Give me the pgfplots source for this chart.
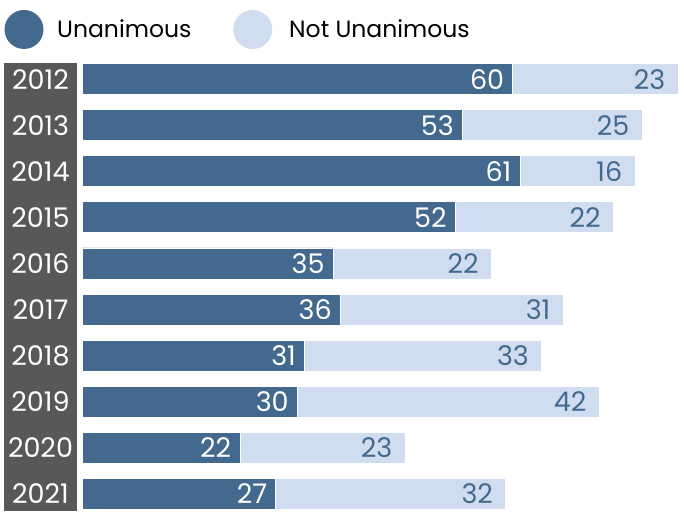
\documentclass[border=0pt]{standalone}
\usepackage{pgfplots}
\pgfplotsset{compat=1.18}
\usepackage{fontspec}
\setmainfont{Poppins}
\definecolor{dblue}{HTML}{44698E}
\definecolor{lblue}{HTML}{D0DDF0}
\definecolor{colgrey}{HTML}{58585A}
\begin{document}
\begin{tikzpicture}[x=1pt,y=1pt]
\fill[colgrey] (4,3) rectangle (77,451);
\begin{axis}[
  at={(82pt,4pt)}, anchor=south west,
  scale only axis, width=596pt, height=447pt,
  xbar, bar width=31pt, bar shift=0pt,
  xmin=0, xmax=83, ymin=-0.35, ymax=9.35,
  y dir=reverse,
  axis line style={draw=none},
  xtick=\empty,
  ytick={0,...,9},
  yticklabels={2012,2013,2014,2015,2016,2017,2018,2019,2020,2021},
  major tick length=0pt,
  yticklabel style={anchor=center, xshift=-41.5pt, text=white, font=\fontsize{27}{27}\selectfont},
  /pgf/number format/assume math mode=true,
  point meta=explicit,
  nodes near coords,
  clip=false,
]
% Not Unanimous: bar drawn from 0 to the total (Unanimous + Not Unanimous), label = Not Unanimous count
\addplot[fill=lblue, draw=white, line width=0.8pt,
  nodes near coords style={anchor=east, xshift=-9pt, text=dblue, font=\fontsize{27}{27}\selectfont}] coordinates {
(83,0) [23] (78,1) [25] (77,2) [16] (74,3) [22] (57,4) [22]
(67,5) [31] (64,6) [33] (72,7) [42] (45,8) [23] (59,9) [32]};
% Unanimous
\addplot[fill=dblue, draw=white, line width=0.8pt,
  nodes near coords style={anchor=east, xshift=-5pt, text=white, font=\fontsize{27}{27}\selectfont}] coordinates {
(60,0) [60] (53,1) [53] (61,2) [61] (52,3) [52] (35,4) [35]
(36,5) [36] (31,6) [31] (30,7) [30] (22,8) [22] (27,9) [27]};
\end{axis}
\fill[dblue] (24,484.5) circle (19.5);
\node[anchor=west, inner sep=0pt, font=\fontsize{23.5}{23.5}\selectfont] at (57,485) {Unanimous};
\fill[lblue] (252.7,484.5) circle (19.5);
\node[anchor=west, inner sep=0pt, font=\fontsize{23.5}{23.5}\selectfont] at (289,485) {Not Unanimous};
\pgfresetboundingbox
\path[use as bounding box] (0,0) rectangle (684,514);
\end{tikzpicture}
\end{document}
